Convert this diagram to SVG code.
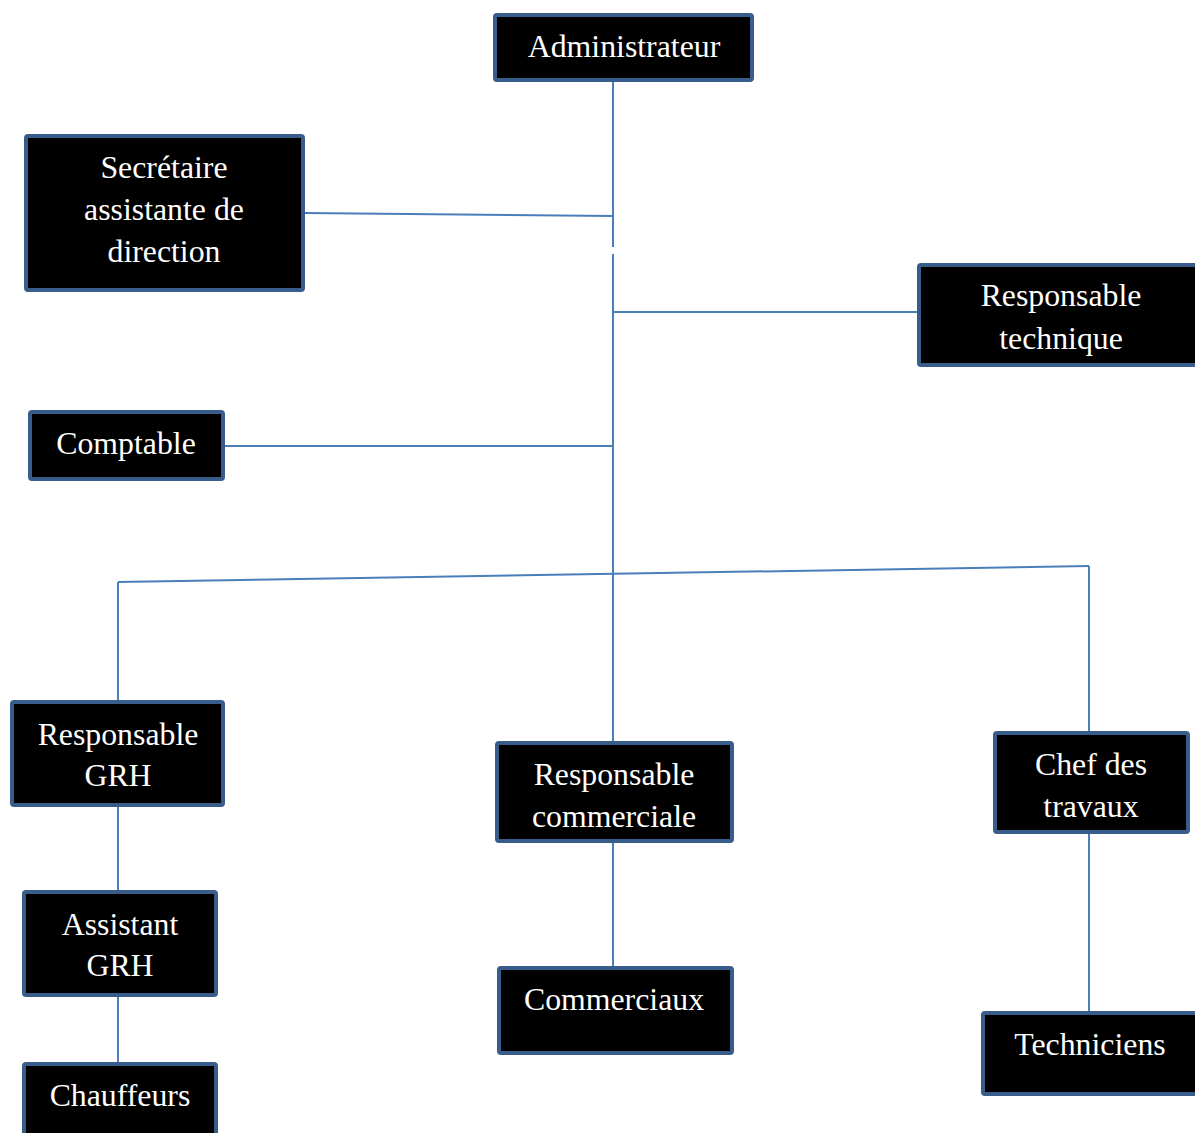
<svg xmlns="http://www.w3.org/2000/svg" width="1195" height="1133" viewBox="0 0 1195 1133">
<style>
.box{fill:#000;stroke:#385D8A;stroke-width:4;}
.t{fill:#fff;font-family:"Liberation Serif","Times New Roman",serif;font-size:31.8px;text-anchor:middle;}
.c{stroke:#4A7EBB;stroke-width:2;fill:none;}
</style>
<rect width="1195" height="1133" fill="#fff"/>
<g id="connectors">
<line class="c" x1="613" y1="82" x2="613" y2="247"/>
<line class="c" x1="613" y1="254" x2="613" y2="743"/>
<line class="c" x1="305" y1="213" x2="613" y2="216"/>
<line class="c" x1="613" y1="312" x2="919" y2="312"/>
<line class="c" x1="225" y1="446" x2="613" y2="446"/>
<line class="c" x1="118" y1="582" x2="1089" y2="566"/>
<line class="c" x1="118" y1="582" x2="118" y2="702"/>
<line class="c" x1="1089" y1="566" x2="1089" y2="733"/>
<line class="c" x1="118" y1="807" x2="118" y2="892"/>
<line class="c" x1="118" y1="997" x2="118" y2="1064"/>
<line class="c" x1="613" y1="843" x2="613" y2="968"/>
<line class="c" x1="1089" y1="834" x2="1089" y2="1013"/>
</g>
<g id="administrateur"><rect class="box" x="495" y="15" width="257" height="65" rx="2"/><text class="t" x="624" y="57">Administrateur</text></g>
<g id="secretaire"><rect class="box" x="26" y="136" width="277" height="154" rx="2"/><text class="t" x="164" y="178">Secrétaire</text><text class="t" x="164" y="220">assistante de</text><text class="t" x="164" y="262">direction</text></g>
<g id="resp-technique"><rect class="box" x="919" y="265" width="290" height="100" rx="2"/><text class="t" x="1061" y="306">Responsable</text><text class="t" x="1061" y="349">technique</text></g>
<g id="comptable"><rect class="box" x="30" y="412" width="193" height="67" rx="2"/><text class="t" x="126" y="454">Comptable</text></g>
<g id="resp-grh"><rect class="box" x="12" y="702" width="211" height="103" rx="2"/><text class="t" x="118" y="745">Responsable</text><text class="t" x="118" y="786">GRH</text></g>
<g id="resp-commerciale"><rect class="box" x="497" y="743" width="235" height="98" rx="2"/><text class="t" x="614" y="785">Responsable</text><text class="t" x="614" y="827">commerciale</text></g>
<g id="chef-travaux"><rect class="box" x="995" y="733" width="193" height="99" rx="2"/><text class="t" x="1091" y="775">Chef des</text><text class="t" x="1091" y="817">travaux</text></g>
<g id="assistant-grh"><rect class="box" x="24" y="892" width="192" height="103" rx="2"/><text class="t" x="120" y="935">Assistant</text><text class="t" x="120" y="976">GRH</text></g>
<g id="commerciaux"><rect class="box" x="499" y="968" width="233" height="85" rx="2"/><text class="t" x="614" y="1010">Commerciaux</text></g>
<g id="chauffeurs"><rect class="box" x="24" y="1064" width="192" height="90" rx="2"/><text class="t" x="120" y="1106">Chauffeurs</text></g>
<g id="techniciens"><rect class="box" x="983" y="1013" width="230" height="81" rx="2"/><text class="t" x="1090" y="1055">Techniciens</text></g>
</svg>
